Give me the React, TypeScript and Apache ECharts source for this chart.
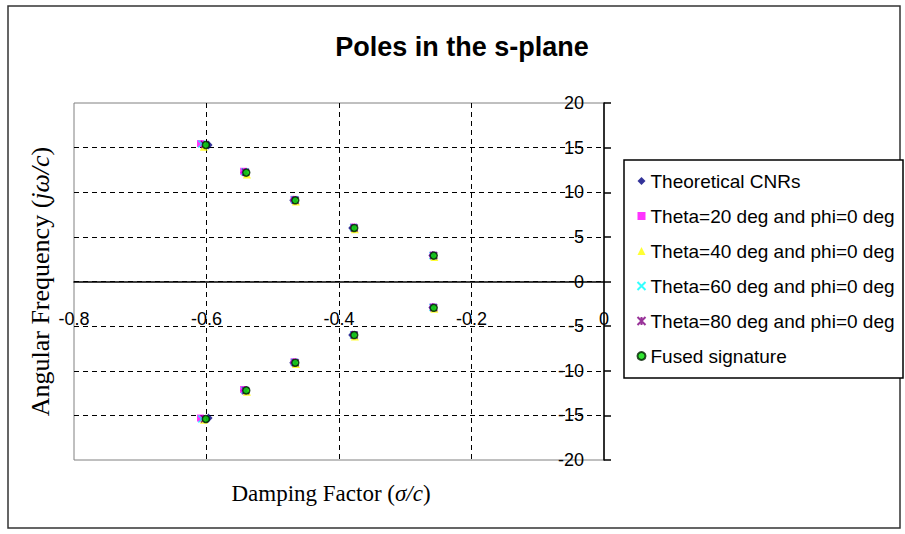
import React, { useEffect, useRef } from "react";
import * as echarts from "echarts";

// Pole locations: real part (σ/c) and imaginary part (ω/c) for each estimate
const theoreticalRe = [-0.597, -0.543, -0.469, -0.380, -0.259, -0.259, -0.380, -0.469, -0.543, -0.597];
const theoreticalIm = [15.3, 12.2, 9.1, 6.0, 2.9, -2.9, -6.0, -9.1, -12.2, -15.3];

const theta20Re = [-0.609, -0.544, -0.468, -0.378, -0.258, -0.258, -0.378, -0.468, -0.544, -0.609];
const theta20Im = [15.45, 12.35, 9.2, 6.1, 2.95, -2.85, -5.95, -9.0, -12.1, -15.3];

const theta40Re = [-0.604, -0.539, -0.465, -0.376, -0.256, -0.256, -0.376, -0.465, -0.539, -0.604];
const theta40Im = [15.1, 12.0, 8.95, 5.85, 2.75, -3.05, -6.15, -9.25, -12.35, -15.5];

const theta60Re = [-0.607, -0.542, -0.467, -0.378, -0.258, -0.258, -0.378, -0.467, -0.542, -0.607];
const theta60Im = [15.4, 12.3, 9.15, 6.05, 2.9, -2.9, -6.0, -9.05, -12.2, -15.4];

const theta80Re = [-0.603, -0.541, -0.466, -0.377, -0.257, -0.257, -0.377, -0.466, -0.541, -0.603];
const theta80Im = [15.35, 12.25, 9.1, 6.0, 2.9, -2.95, -6.0, -9.1, -12.25, -15.4];

const fusedRe = [-0.601, -0.540, -0.466, -0.377, -0.257, -0.257, -0.377, -0.466, -0.540, -0.601];
const fusedIm = [15.3, 12.2, 9.1, 6.0, 2.9, -2.95, -6.0, -9.1, -12.2, -15.4];

const seriesNames = [
  "Theoretical CNRs",
  "Theta=20 deg and phi=0 deg",
  "Theta=40 deg and phi=0 deg",
  "Theta=60 deg and phi=0 deg",
  "Theta=80 deg and phi=0 deg",
  "Fused signature",
];

const xTicks = { min: -0.8, max: 0, interval: 0.2 };
const yTicks = { min: -20, max: 20, interval: 5 };

const pairs = (re: number[], im: number[]) => re.map((r, i) => [r, im[i]]);

const SANS = "'Liberation Sans', Arial, sans-serif";
const SERIF = "'Liberation Serif', 'Times New Roman', serif";

// plot area in pixels
const PLOT = { left: 74, top: 103, width: 530, height: 357 };

export default function App() {
  const ref = useRef<HTMLDivElement>(null);

  useEffect(() => {
    if (!ref.current) return;
    const chart = echarts.init(ref.current, null, { renderer: "svg" });

    const dashed = { color: "#000", width: 1, type: [5, 4] as number[] };
    // the axes cross at the origin: x axis at ω = 0, y axis at σ = 0 (right edge)
    const xAxisShift = -PLOT.height * (0 - yTicks.min) / (yTicks.max - yTicks.min);
    const yAxisShift = -PLOT.width * (0 - xTicks.min) / (xTicks.max - xTicks.min);

    chart.setOption({
      animation: false,
      backgroundColor: "#fff",
      title: {
        text: "Poles in the s-plane",
        left: 457,
        top: 28,
        textAlign: "center",
        textStyle: { fontFamily: SANS, fontWeight: "bold", fontSize: 27, color: "#000" },
      },
      grid: {
        ...PLOT,
        show: true,
        borderColor: "#808080",
        borderWidth: 1,
        containLabel: false,
        outerBoundsMode: "none",
      },
      legend: {
        orient: "vertical",
        left: 635,
        top: 171,
        padding: 0,
        itemGap: 15,
        itemWidth: 8,
        itemHeight: 8,
        data: seriesNames,
        textStyle: { fontFamily: SANS, fontSize: 19, color: "#000", lineHeight: 20 },
      },
      xAxis: {
        type: "value",
        position: "bottom",
        offset: xAxisShift,
        min: xTicks.min,
        max: xTicks.max,
        interval: xTicks.interval,
        name: "Damping Factor ({i|σ/c})",
        nameLocation: "middle",
        nameGap: 200,
        nameTextStyle: {
          fontFamily: SERIF,
          fontSize: 23,
          color: "#000",
          padding: [0, 16, 0, 0],
          rich: { i: { fontFamily: SERIF, fontStyle: "italic", fontSize: 23, color: "#000" } },
        },
        axisLine: { onZero: false, lineStyle: { color: "#000", width: 1.5 } },
        axisTick: { show: false },
        axisLabel: {
          margin: 28,
          fontFamily: SANS,
          fontSize: 18,
          color: "#000",
          showMinLabel: true,
          showMaxLabel: true,
          formatter: (v: number) => (Math.abs(v) < 1e-9 ? "0" : v.toFixed(1)),
        },
        splitLine: { show: true, showMinLine: false, showMaxLine: false, lineStyle: dashed },
      },
      yAxis: {
        type: "value",
        position: "left",
        offset: yAxisShift,
        min: yTicks.min,
        max: yTicks.max,
        interval: yTicks.interval,
        name: "Angular Frequency ({i|jω/c})",
        nameLocation: "middle",
        nameGap: 551,
        nameTextStyle: {
          fontFamily: SERIF,
          fontSize: 26,
          color: "#000",
          rich: { i: { fontFamily: SERIF, fontStyle: "italic", fontSize: 26, color: "#000" } },
        },
        axisLine: { onZero: false, lineStyle: { color: "#000", width: 1.5 } },
        // tick marks stick out to the right of the σ = 0 axis
        axisTick: { show: true, inside: true, length: 7, lineStyle: { color: "#000", width: 1.5 } },
        axisLabel: {
          margin: 20,
          fontFamily: SANS,
          fontSize: 18,
          color: "#000",
          showMinLabel: true,
          showMaxLabel: true,
        },
        splitLine: { show: true, showMinLine: false, showMaxLine: false, lineStyle: dashed },
      },
      graphic: [
        {
          type: "rect",
          silent: true,
          z: -1,
          shape: { x: 8, y: 6, width: 892, height: 522 },
          style: { fill: "none", stroke: "#333", lineWidth: 1.5 },
        },
        {
          type: "rect",
          silent: true,
          shape: { x: 624, y: 160, width: 279, height: 218 },
          style: { fill: "#fff", stroke: "#000", lineWidth: 1.5 },
          z: 0,
        },
      ],
      series: [
        {
          name: seriesNames[0],
          type: "scatter",
          symbol: "diamond",
          symbolSize: [8, 9],
          itemStyle: { color: "#000080" },
          data: pairs(theoreticalRe, theoreticalIm),
        },
        {
          name: seriesNames[1],
          type: "scatter",
          symbol: "rect",
          symbolSize: 7,
          itemStyle: { color: "#FF00FF" },
          data: pairs(theta20Re, theta20Im),
        },
        {
          name: seriesNames[2],
          type: "scatter",
          symbol: "triangle",
          symbolSize: 8,
          itemStyle: { color: "#FFFF00" },
          data: pairs(theta40Re, theta40Im),
        },
        {
          name: seriesNames[3],
          type: "scatter",
          symbol: "path://M0,0L10,10M10,0L0,10",
          symbolSize: 7,
          itemStyle: { color: "none", borderColor: "#00FFFF", borderWidth: 1.5 },
          data: pairs(theta60Re, theta60Im),
        },
        {
          name: seriesNames[4],
          type: "scatter",
          symbol: "path://M0,0L10,10M10,0L0,10M5,0L5,10",
          symbolSize: 7,
          itemStyle: { color: "none", borderColor: "#800080", borderWidth: 1.5 },
          data: pairs(theta80Re, theta80Im),
        },
        {
          name: seriesNames[5],
          type: "scatter",
          symbol: "circle",
          symbolSize: 7,
          itemStyle: { color: "#00E000", borderColor: "#002000", borderWidth: 1.5 },
          data: pairs(fusedRe, fusedIm),
        },
      ],
    });

    return () => chart.dispose();
  }, []);

  return (
    <div
      ref={ref}
      style={{ position: "fixed", left: 0, top: 0, width: 905, height: 534, background: "#fff" }}
    />
  );
}
